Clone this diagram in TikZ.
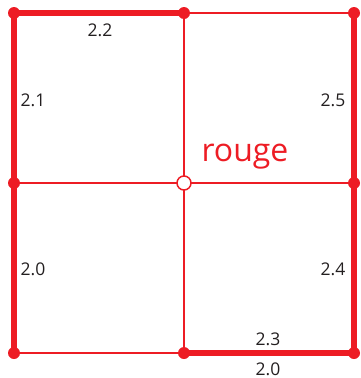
\documentclass[tikz,border=0pt]{standalone}
\usepackage{fontspec}
\setmainfont{Open Sans}
\definecolor{rred}{HTML}{ED1C24}
\definecolor{ink}{HTML}{231F20}
\begin{document}
\begin{tikzpicture}[x=1pt,y=-1pt,
  thin line/.style={draw=rred,line width=1.5pt},
  thick line/.style={draw=rred,line width=6pt},
  dot/.style={circle,fill=rred,inner sep=0pt,minimum size=12pt},
  open dot/.style={circle,draw=rred,fill=white,line width=1.5pt,inner sep=0pt,minimum size=14pt},
  num/.style={text=ink,font=\fontsize{17.5}{20}\selectfont,inner sep=0pt}]
\useasboundingbox (0,0) rectangle (360,378);
\coordinate (tl) at (14,13);
\coordinate (tm) at (184,13);
\coordinate (tr) at (354,13);
\coordinate (ml) at (14,183);
\coordinate (mm) at (184,183);
\coordinate (mr) at (354,183);
\coordinate (bl) at (14,353);
\coordinate (bm) at (184,353);
\coordinate (br) at (354,353);
% thin grid
\draw[thin line] (tm) -- (tr);
\draw[thin line] (bl) -- (bm);
\draw[thin line] (ml) -- (mr);
\draw[thin line] (tm) -- (bm);
% thick edges
\draw[thick line] (bl) -- (tl) -- (tm);
\draw[thick line] (bm) -- (br) -- (tr);
% dots
\foreach \p in {tl,tm,tr,ml,mr,bl,bm,br} \node[dot] (d\p) at (\p) {};
\node[open dot] (dmm) at (mm) {};
% labels
\node[num] (l22) at (100,30) {2.2};
\node[num] (l21) at (33,100) {2.1};
\node[num] (l25) at (333,100) {2.5};
\node[num] (l20a) at (33,269) {2.0};
\node[num] (l24) at (333,269) {2.4};
\node[num] (l23) at (268,339) {2.3};
\node[num] (l20b) at (268,369) {2.0};
\node[text=rred,font=\fontsize{32}{36}\selectfont,inner sep=0pt] (rouge) at (245,157) {rouge};
\end{tikzpicture}
\end{document}
